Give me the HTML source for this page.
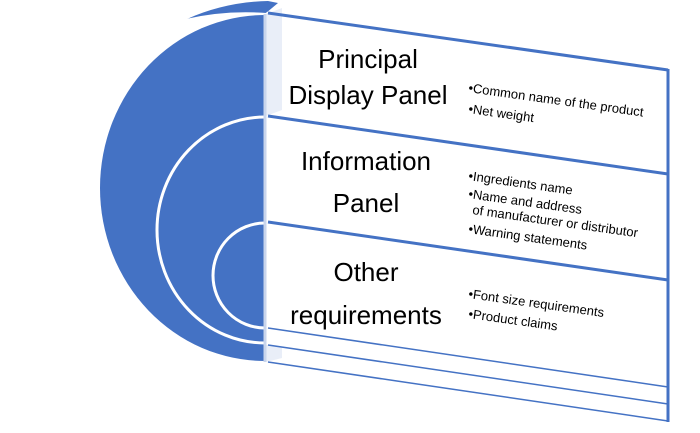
<!DOCTYPE html>
<html><head><style>
body{margin:0;width:700px;height:428px;background:#fff;overflow:hidden}
text{font-family:"Liberation Sans",sans-serif;fill:#000}
</style></head><body>
<svg width="700" height="428" viewBox="0 0 700 428">
<path d="M265,15 A165,173 0 0 0 265,361 Z" fill="#4472c4"/>
<path d="M187,19 Q225,2 268,1 L278,3 L266,13 Q225,12 187,19 Z" fill="#4472c4"/>
<path d="M186,20 Q225,11 266,14 L280,5" fill="none" stroke="#fff" stroke-width="2"/>
<path d="M265,117 A108,113 0 0 0 265,343" fill="none" stroke="#fff" stroke-width="3"/>
<path d="M265,223 A52,52.5 0 0 0 265,328" fill="none" stroke="#fff" stroke-width="3"/>
<polygon points="266,14 282,8 282,110 266,116" fill="#e9eef8"/>
<polygon points="266,345 282,347 282,358 266,362" fill="#e9eef8"/>
<line x1="265" y1="14" x2="265" y2="362" stroke="#c9d5ec" stroke-width="3"/>
<g stroke="#4472c4" fill="none">
<line x1="268" y1="13" x2="668" y2="70" stroke-width="3"/>
<line x1="268" y1="116" x2="668" y2="174" stroke-width="3"/>
<line x1="268" y1="222" x2="668" y2="280" stroke-width="3"/>
<line x1="268" y1="328" x2="668" y2="387" stroke-width="1.5"/>
<line x1="268" y1="345" x2="668" y2="404" stroke-width="1.5"/>
<line x1="268" y1="362" x2="668" y2="421" stroke-width="1.5"/>
<line x1="668" y1="69" x2="668" y2="422" stroke-width="3"/>
</g>
<g font-size="26" text-anchor="middle">
<text x="368" y="68">Principal</text>
<text x="368" y="104">Display Panel</text>
<text x="366" y="170">Information</text>
<text x="366" y="212">Panel</text>
<text x="366" y="281">Other</text>
<text x="366" y="324">requirements</text>
</g>
<g font-size="13">
<text transform="translate(468,92) rotate(8)">•Common name of the product</text>
<text transform="translate(468,113) rotate(8)">•Net weight</text>
<text transform="translate(468,180) rotate(8)">•Ingredients name</text>
<text transform="translate(468,198) rotate(8)">•Name and address</text>
<text transform="translate(472,214) rotate(8)">of  manufacturer or distributor</text>
<text transform="translate(468,233) rotate(8)">•Warning statements</text>
<text transform="translate(468,298) rotate(8)">•Font size requirements</text>
<text transform="translate(468,318) rotate(8)">•Product claims</text>
</g>
</svg>
</body></html>
